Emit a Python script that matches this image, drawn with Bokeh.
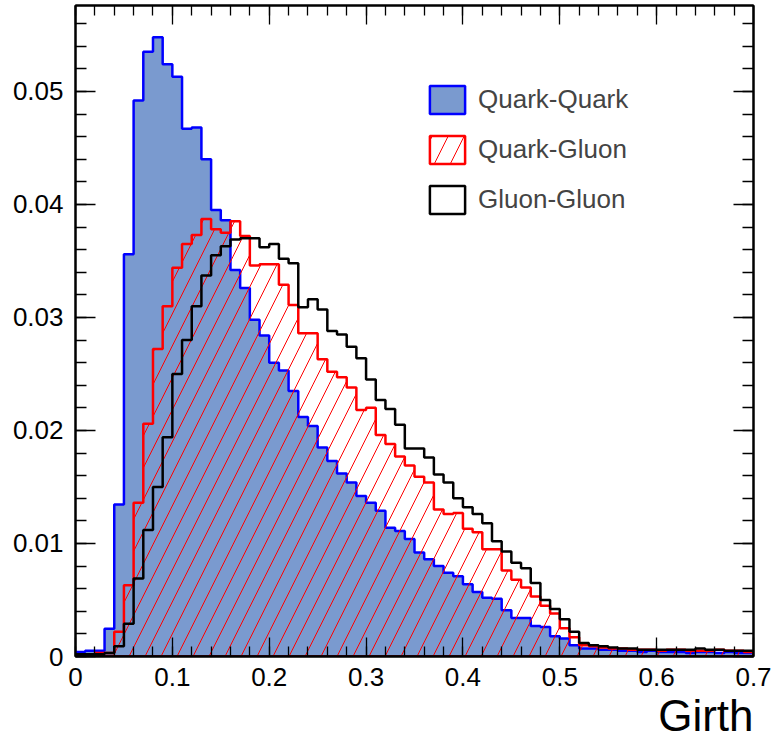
from bokeh.plotting import figure
from bokeh.models import (Range1d, LinearAxis, FixedTicker, CustomJSTickFormatter,
                          CustomLabelingPolicy, Legend, LegendItem, Title)
from bokeh.embed import file_html
from bokeh.resources import INLINE

# ---- data (bin contents, bins of width 0.01 from 0 to 0.7) ----
bin_width = 0.01
x_min, x_max = 0.0, 0.7
y_max = 0.0576

x_major_ticks = [0.0, 0.1, 0.2, 0.3, 0.4, 0.5, 0.6, 0.7]
y_major_ticks = [0.0, 0.01, 0.02, 0.03, 0.04, 0.05]

quark_quark = [
    0.0004, 0.0005, 0.0005, 0.00245, 0.01345, 0.0356, 0.0492, 0.0535, 0.0548, 0.0524,
    0.0513, 0.0467, 0.0468, 0.0440, 0.0395, 0.0386, 0.0342, 0.0326, 0.0298, 0.0284,
    0.0260, 0.0253, 0.0235, 0.0212, 0.0204, 0.0185, 0.0173, 0.0162, 0.0154, 0.0142,
    0.0136, 0.0129, 0.0114, 0.0111, 0.0104, 0.0092, 0.0086, 0.0080, 0.0074, 0.0071,
    0.0064, 0.0057, 0.0052, 0.0051, 0.0041, 0.0034, 0.0034, 0.0027, 0.0026, 0.0018,
    0.0016, 0.0010, 0.0007, 0.0007, 0.0006, 0.0006, 0.0005, 0.0005, 0.0004, 0.0005,
    0.0004, 0.0004, 0.0004, 0.0003, 0.0004, 0.0004, 0.0003, 0.0004, 0.0003, 0.0003,
]
quark_gluon = [
    0.0002, 0.0002, 0.0003, 0.0003, 0.0022, 0.0063, 0.0136, 0.0206, 0.0272, 0.0310,
    0.0344, 0.0365, 0.0373, 0.0387, 0.0378, 0.0375, 0.0385, 0.0372, 0.0346, 0.0347,
    0.0347, 0.0329, 0.0311, 0.0286, 0.0286, 0.0263, 0.0252, 0.0247, 0.0238, 0.0218,
    0.0220, 0.0196, 0.0188, 0.0177, 0.0169, 0.0159, 0.0154, 0.0130, 0.0126, 0.0127,
    0.0113, 0.0110, 0.0095, 0.0095, 0.0076, 0.0068, 0.0061, 0.0053, 0.0045, 0.0038,
    0.0025, 0.0017, 0.0010, 0.0009, 0.0008, 0.0007, 0.0007, 0.0006, 0.0006, 0.0006,
    0.0005, 0.0006, 0.0006, 0.0005, 0.0005, 0.0005, 0.0006, 0.0005, 0.0005, 0.0004,
]
gluon_gluon = [
    0.0002, 0.0002, 0.0002, 0.0003, 0.0009, 0.0029, 0.0069, 0.0112, 0.0150, 0.0194,
    0.0250, 0.0280, 0.0310, 0.0337, 0.0355, 0.0363, 0.0369, 0.0370, 0.0370, 0.0362,
    0.0365, 0.0352, 0.0348, 0.0309, 0.0316, 0.0307, 0.0288, 0.0285, 0.0274, 0.0264,
    0.0245, 0.0227, 0.0219, 0.0205, 0.0184, 0.0184, 0.0176, 0.0161, 0.0154, 0.0140,
    0.0132, 0.0126, 0.0118, 0.0102, 0.0093, 0.0083, 0.0078, 0.0065, 0.0050, 0.0042,
    0.0033, 0.0022, 0.0012, 0.0010, 0.0009, 0.0008, 0.0007, 0.0007, 0.0006, 0.0006,
    0.0006, 0.0006, 0.0006, 0.0006, 0.0007, 0.0006, 0.0006, 0.0005, 0.0005, 0.0005,
]
series_labels = ["Quark-Quark", "Quark-Gluon", "Gluon-Gluon"]
x_axis_title = "Girth"


def step_polygon(vals):
    edges = [x_min + i * bin_width for i in range(len(vals) + 1)]
    xs, ys = [edges[0]], [0.0]
    for i, v in enumerate(vals):
        xs += [edges[i], edges[i + 1]]
        ys += [v, v]
    xs.append(edges[-1])
    ys.append(0.0)
    return xs, ys


def minor_between(majors, n_div, extend_to=None):
    step = (majors[1] - majors[0]) / n_div
    out = []
    k = 0
    top = extend_to if extend_to is not None else majors[-1]
    while majors[0] + k * step <= top + 1e-12:
        out.append(majors[0] + k * step)
        k += 1
    return out


x_minor_ticks = minor_between(x_major_ticks, 5)
y_minor_ticks = minor_between(y_major_ticks, 5, extend_to=y_max)

FONT = "Liberation Sans"

p = figure(frame_width=678, frame_height=651,
           x_range=Range1d(x_min, x_max), y_range=Range1d(0, y_max),
           output_backend="svg", toolbar_location=None,
           min_border_left=75, min_border_right=21, min_border_top=5, min_border_bottom=93,
           background_fill_color="white", border_fill_color="white")
p.xgrid.visible = False
p.ygrid.visible = False
p.outline_line_color = "black"
p.outline_line_width = 2

fmt = CustomJSTickFormatter(code="return Number(tick.toFixed(3)).toString();")
no_labels = CustomLabelingPolicy(code="return new Set()")


def style_axis(ax, ticker, major_len, minor_len, labels=True):
    ax.ticker = ticker
    ax.formatter = fmt
    ax.axis_line_color = "black"
    ax.axis_line_width = 2
    ax.major_tick_in = major_len
    ax.major_tick_out = 0
    ax.minor_tick_in = minor_len
    ax.minor_tick_out = 0
    ax.major_tick_line_color = "black"
    ax.minor_tick_line_color = "black"
    ax.major_tick_line_width = 1.3
    ax.minor_tick_line_width = 1.3
    if labels:
        ax.major_label_text_font = FONT
        ax.major_label_text_font_size = "26px"
        ax.major_label_text_color = "black"
    else:
        ax.major_label_policy = no_labels
        ax.major_label_text_font_size = "0px"
        ax.major_label_standoff = 0


def xticker():
    return FixedTicker(ticks=x_major_ticks, minor_ticks=x_minor_ticks)


def yticker():
    return FixedTicker(ticks=y_major_ticks, minor_ticks=y_minor_ticks)


style_axis(p.xaxis[0], xticker(), 19, 10)
p.xaxis[0].major_label_standoff = 11
style_axis(p.yaxis[0], yticker(), 20, 11)
p.yaxis[0].major_label_standoff = 12

top_ax = LinearAxis()
style_axis(top_ax, xticker(), 19, 10, labels=False)
p.add_layout(top_ax, "above")
right_ax = LinearAxis()
style_axis(right_ax, yticker(), 20, 11, labels=False)
p.add_layout(right_ax, "right")

xs, ys = step_polygon(quark_quark)
r_qq = p.patch(xs, ys, fill_color="#7a9acf", line_color="#0000ff", line_width=2.5)
xs, ys = step_polygon(quark_gluon)
r_qg = p.patch(xs, ys, fill_color=None, line_color="#ff0000", line_width=2.5,
               hatch_pattern="/", hatch_color="#ff0000", hatch_scale=32, hatch_weight=1)
xs, ys = step_polygon(gluon_gluon)
r_gg = p.patch(xs, ys, fill_color=None, line_color="black", line_width=2.5)

legend = Legend(items=[LegendItem(label=series_labels[0], renderers=[r_qq]),
                       LegendItem(label=series_labels[1], renderers=[r_qg]),
                       LegendItem(label=series_labels[2], renderers=[r_gg])],
                location=(350, 439), glyph_width=44, glyph_height=35, spacing=15,
                padding=0, margin=0, label_text_font=FONT, label_text_font_size="26px",
                label_standoff=9, border_line_color=None, background_fill_alpha=0)
p.add_layout(legend)

title = Title(text=x_axis_title, align="right", text_font=FONT, text_font_size="44px",
              text_font_style="normal", text_color="black", standoff=0)
p.add_layout(title, "below")

open("out.html", "w").write(file_html(p, INLINE))
